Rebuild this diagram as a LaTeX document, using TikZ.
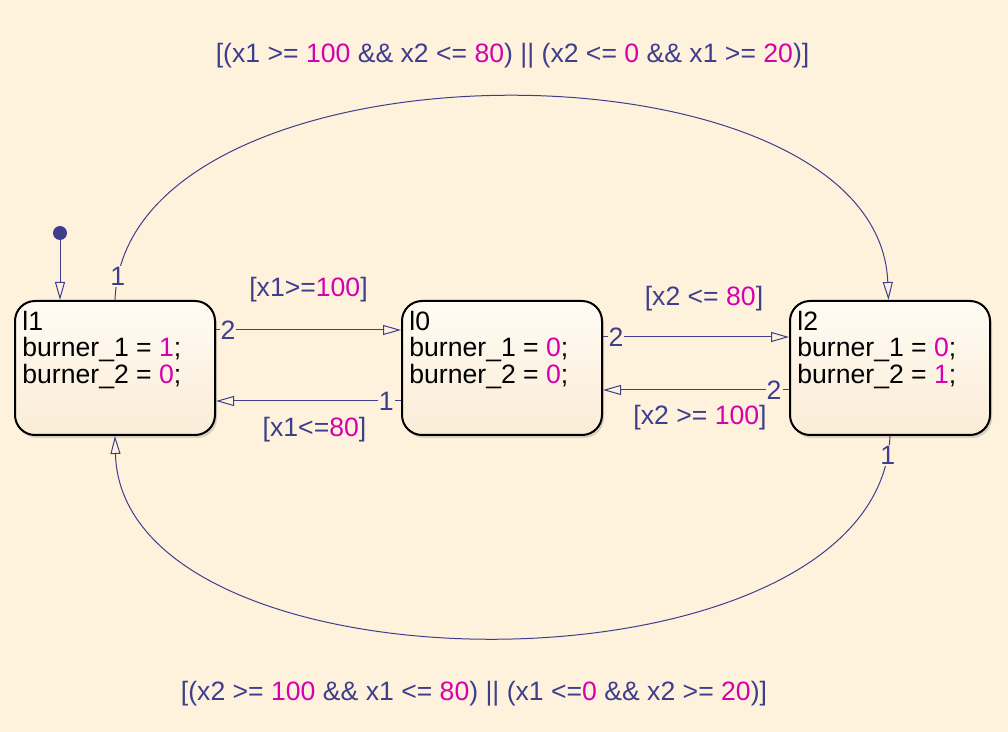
\documentclass[tikz,border=0pt]{standalone}
\usepackage{fontspec}
\setmainfont{Liberation Sans}
\usetikzlibrary{arrows.meta,shadows,positioning}
\definecolor{bgcol}{RGB}{254,242,221}
\definecolor{linecol}{RGB}{62,62,140}
\definecolor{numcol}{RGB}{214,0,172}
\definecolor{topcol}{RGB}{255,251,243}
\definecolor{botcol}{RGB}{250,236,215}
\newcommand{\nv}[1]{\textcolor{numcol}{#1}}

\begin{document}
\begin{tikzpicture}[x=0.5pt,y=-0.5pt,
  state node/.style={rectangle,rounded corners=10pt,draw=black,line width=1pt,minimum width=100pt,minimum height=67pt,top color=topcol,bottom color=botcol,drop shadow={opacity=0.3,shadow xshift=1pt,shadow yshift=-1.5pt}},
  state text/.style={anchor=north west,inner sep=0pt,align=left,font=\fontsize{13.3}{13.3}\selectfont},
  trans/.style={draw=linecol,line width=0.5pt,-{Triangle[open,length=9pt,width=5pt]}},
  prio/.style={font=\fontsize{13.3}{13.3}\selectfont,text=linecol,fill=bgcol,inner sep=0.5pt},
  guard/.style={font=\fontsize{13.3}{13.3}\selectfont,text=linecol,inner sep=0pt}]
  \fill[bgcol] (0,0) rectangle (1008,732);
  \useasboundingbox (0,0) rectangle (1008,732);

  % states
  \node[state node] (l1) at (115,368) {};
  \node[state node, right=92.5pt of l1] (l0) {};
  \node[state node, right=93pt of l0] (l2) {};

  \node[state text] (l1 text) at ([shift={(4pt,-5.3pt)}]l1.north west) {l1\\burner\_1 = \nv{1};\\burner\_2 = \nv{0};};
  \node[state text] (l0 text) at ([shift={(4pt,-5.3pt)}]l0.north west) {l0\\burner\_1 = \nv{0};\\burner\_2 = \nv{0};};
  \node[state text] (l2 text) at ([shift={(4pt,-5.3pt)}]l2.north west) {l2\\burner\_1 = \nv{0};\\burner\_2 = \nv{1};};

  % default transition
  \node[circle,fill=linecol,inner sep=0pt,minimum size=7pt] (init) at (60,233) {};
  \draw[trans] (init) -- (init |- l1.north);

  % transitions
  \draw[trans] ([yshift=19pt]l1.east) -- node[prio,pos=0.065]{2} node[guard,midway,yshift=20pt]{[x1>=\nv{100}]} ([yshift=19pt]l0.west);
  \draw[trans] ([yshift=-16.5pt]l0.west) -- node[prio,pos=0.08]{1} node[guard,midway,yshift=-14.5pt,xshift=3pt]{[x1<=\nv{80}]} ([yshift=-16.5pt]l1.east);
  \draw[trans] ([yshift=15.5pt]l0.east) -- node[prio,pos=0.07]{2} node[guard,midway,yshift=19pt,xshift=4pt]{[x2 <= \nv{80}]} ([yshift=15.5pt]l2.west);
  \draw[trans] ([yshift=-11pt]l2.west) -- node[prio,pos=0.08]{2} node[guard,midway,yshift=-14pt,xshift=2pt]{[x2 >= \nv{100}]} ([yshift=-11pt]l0.east);

  \draw[trans] (l1.north) .. controls (125,30) and (878,30) .. node[prio,pos=0.03]{1} node[guard,pos=0.5,yshift=21pt,xshift=5.5pt]{[(x1 >= \nv{100} \&\& x2 <= \nv{80}) || (x2 <= \nv{0} \&\& x1 >= \nv{20})]} ([xshift=-0.75pt]l2.north);
  \draw[trans] (l2.south) .. controls (879,704) and (122,704) .. node[prio,pos=0.025]{1} node[guard,pos=0.5,yshift=-28.5pt,xshift=-13.5pt]{[(x2 >= \nv{100} \&\& x1 <= \nv{80}) || (x1 <=\nv{0} \&\& x2 >= \nv{20})]} (l1.south);
\end{tikzpicture}
\end{document}
